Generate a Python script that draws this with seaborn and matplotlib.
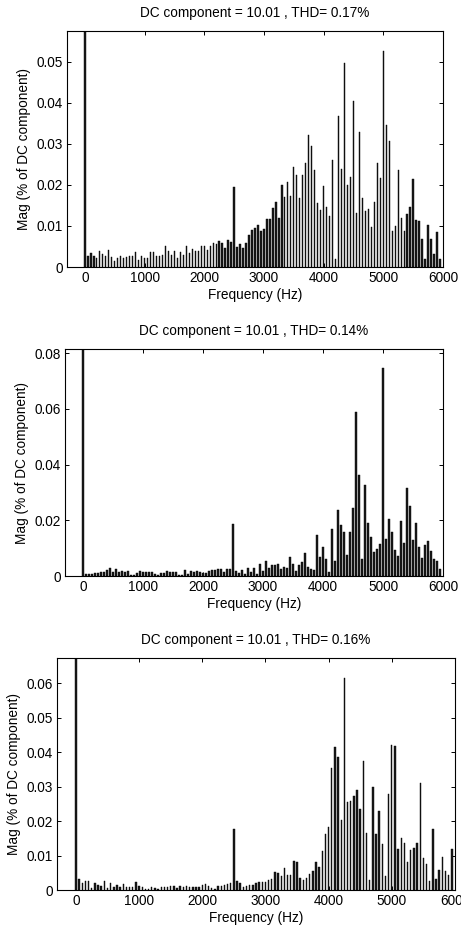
import numpy as np
import pandas as pd
import seaborn as sns
import matplotlib.pyplot as plt

# harmonic frequencies (Hz), one bin every 50 Hz
freqs = np.arange(0, 6000, 50)

# magnitudes (% of DC); bin 0 is the DC component itself (100 %)
mag_a = [100.0,
    0.0028, 0.0033, 0.0026, 0.0022, 0.0039, 0.0032, 0.0026, 0.0042, 0.0025, 0.0014,
    0.0022, 0.0026, 0.0023, 0.0025, 0.0028, 0.0028, 0.0036, 0.0018, 0.0026, 0.0023,
    0.0022, 0.0037, 0.0037, 0.0028, 0.0026, 0.0030, 0.0050, 0.0038, 0.0030, 0.0039,
    0.0022, 0.0036, 0.0030, 0.0052, 0.0034, 0.0044, 0.0039, 0.0039, 0.0051, 0.0050,
    0.0041, 0.0052, 0.0058, 0.0055, 0.0064, 0.0058, 0.0047, 0.0066, 0.0062, 0.0196,
    0.0048, 0.0055, 0.0047, 0.0058, 0.0079, 0.0089, 0.0096, 0.0102, 0.0088, 0.0093,
    0.0116, 0.0116, 0.0144, 0.0158, 0.0120, 0.0199, 0.0171, 0.0207, 0.0172, 0.0243,
    0.0225, 0.0167, 0.0225, 0.0254, 0.0321, 0.0294, 0.0236, 0.0156, 0.0138, 0.0198,
    0.0146, 0.0125, 0.0260, 0.0020, 0.0368, 0.0238, 0.0496, 0.0200, 0.0219, 0.0405,
    0.0131, 0.0329, 0.0169, 0.0137, 0.0141, 0.0097, 0.0158, 0.0254, 0.0217, 0.0527,
    0.0345, 0.0307, 0.0088, 0.0101, 0.0237, 0.0119, 0.0088, 0.0130, 0.0146, 0.0215,
    0.0115, 0.0113, 0.0069, 0.0019, 0.0102, 0.0069, 0.0032, 0.0086, 0.0019]

mag_b = [100.0,
    0.0006, 0.0009, 0.0009, 0.0010, 0.0010, 0.0013, 0.0014, 0.0020, 0.0029, 0.0016,
    0.0026, 0.0013, 0.0017, 0.0014, 0.0017, 0.0005, 0.0004, 0.0012, 0.0017, 0.0016,
    0.0014, 0.0013, 0.0013, 0.0008, 0.0003, 0.0010, 0.0012, 0.0017, 0.0013, 0.0013,
    0.0014, 0.0005, 0.0004, 0.0022, 0.0007, 0.0018, 0.0014, 0.0017, 0.0014, 0.0012,
    0.0010, 0.0017, 0.0020, 0.0021, 0.0025, 0.0025, 0.0013, 0.0024, 0.0026, 0.0186,
    0.0018, 0.0012, 0.0020, 0.0008, 0.0029, 0.0014, 0.0030, 0.0008, 0.0044, 0.0018,
    0.0053, 0.0030, 0.0038, 0.0041, 0.0043, 0.0026, 0.0032, 0.0030, 0.0068, 0.0044,
    0.0017, 0.0038, 0.0049, 0.0084, 0.0032, 0.0025, 0.0022, 0.0146, 0.0068, 0.0104,
    0.0061, 0.0013, 0.0170, 0.0053, 0.0236, 0.0182, 0.0159, 0.0076, 0.0158, 0.0245,
    0.0590, 0.0362, 0.0060, 0.0327, 0.0189, 0.0140, 0.0088, 0.0096, 0.0115, 0.0746,
    0.0134, 0.0205, 0.0158, 0.0092, 0.0072, 0.0198, 0.0120, 0.0315, 0.0253, 0.0131,
    0.0191, 0.0104, 0.0064, 0.0110, 0.0125, 0.0090, 0.0061, 0.0054, 0.0024]

mag_c = [100.0,
    0.0032, 0.0020, 0.0026, 0.0026, 0.0007, 0.0019, 0.0014, 0.0013, 0.0026, 0.0007,
    0.0019, 0.0010, 0.0016, 0.0010, 0.0017, 0.0010, 0.0010, 0.0010, 0.0022, 0.0012,
    0.0008, 0.0004, 0.0004, 0.0008, 0.0007, 0.0003, 0.0010, 0.0008, 0.0010, 0.0012,
    0.0012, 0.0005, 0.0012, 0.0009, 0.0012, 0.0009, 0.0010, 0.0009, 0.0009, 0.0015,
    0.0018, 0.0012, 0.0006, 0.0004, 0.0012, 0.0012, 0.0015, 0.0017, 0.0020, 0.0177,
    0.0025, 0.0020, 0.0008, 0.0012, 0.0014, 0.0015, 0.0021, 0.0022, 0.0022, 0.0022,
    0.0029, 0.0032, 0.0051, 0.0048, 0.0042, 0.0064, 0.0045, 0.0045, 0.0084, 0.0081,
    0.0036, 0.0029, 0.0035, 0.0046, 0.0055, 0.0080, 0.0068, 0.0113, 0.0163, 0.0184,
    0.0353, 0.0414, 0.0385, 0.0203, 0.0615, 0.0255, 0.0258, 0.0272, 0.0291, 0.0236,
    0.0376, 0.0165, 0.0029, 0.0298, 0.0162, 0.0229, 0.0133, 0.0042, 0.0278, 0.0421,
    0.0418, 0.0119, 0.0152, 0.0138, 0.0080, 0.0116, 0.0123, 0.0138, 0.0310, 0.0094,
    0.0077, 0.0025, 0.0177, 0.0032, 0.0058, 0.0097, 0.0055, 0.0045, 0.0119]

titles = ["DC component = 10.01 , THD= 0.17%",
          "DC component = 10.01 , THD= 0.14%",
          "DC component = 10.01 , THD= 0.16%"]
ylims = [0.0575, 0.0815, 0.0674]
yticks = [[0, 0.01, 0.02, 0.03, 0.04, 0.05],
          [0, 0.02, 0.04, 0.06, 0.08],
          [0, 0.01, 0.02, 0.03, 0.04, 0.05, 0.06]]
ytick_labels = [["0", "0.01", "0.02", "0.03", "0.04", "0.05"],
                ["0", "0.02", "0.04", "0.06", "0.08"],
                ["0", "0.01", "0.02", "0.03", "0.04", "0.05", "0.06"]]
xticks = [0, 1000, 2000, 3000, 4000, 5000, 6000]
xtick_labels = ["0", "1000", "2000", "3000", "4000", "5000", "6000"]

sns.set_style("ticks")
plt.rcParams['font.family'] = ['Liberation Sans', 'DejaVu Sans']
plt.rcParams['text.color'] = 'black'
plt.rcParams['axes.labelcolor'] = 'black'
fs = 9.8

fig = plt.figure(figsize=(4.61, 9.30), dpi=100)
boxes = [[0.1453, 0.7129, 0.8156, 0.2538],
         [0.1410, 0.3806, 0.8200, 0.2441],
         [0.1236, 0.0430, 0.8633, 0.2495]]

for i, mags in enumerate([mag_a, mag_b, mag_c]):
    ax = fig.add_axes(boxes[i])
    df = pd.DataFrame({"freq": freqs, "mag": mags})
    sns.barplot(data=df, x="freq", y="mag", native_scale=True, width=0.45,
                color="#1a1a1a", edgecolor="black", linewidth=0.3,
                saturation=1, errorbar=None, ax=ax)
    ax.set_xlim(-300, 6000)
    ax.set_ylim(0, ylims[i])
    ax.set_xticks(xticks)
    ax.set_xticklabels(xtick_labels)
    ax.set_yticks(yticks[i])
    ax.set_yticklabels(ytick_labels[i])
    ax.tick_params(direction="in", length=3, width=0.7, top=True, right=True,
                   labelsize=fs, pad=3, colors="black")
    for sp in ax.spines.values():
        sp.set_visible(True)
        sp.set_linewidth(0.8)
        sp.set_color("black")
    ax.set_title(titles[i], fontsize=fs, pad=10, color="black")
    ax.set_xlabel("Frequency (Hz)", fontsize=fs, labelpad=2)
    ax.set_ylabel("Mag (% of DC component)", fontsize=fs, labelpad=4)

fig.savefig("out.png", dpi=100)
